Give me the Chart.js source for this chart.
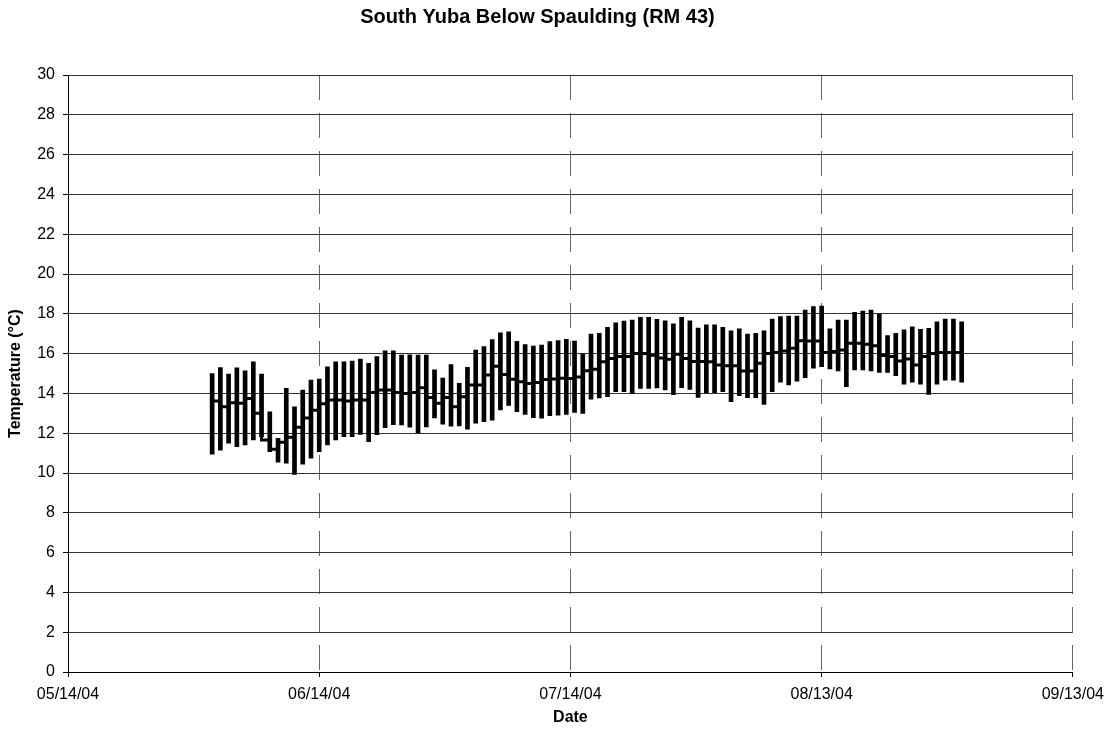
<!DOCTYPE html>
<html><head><meta charset="utf-8">
<script src="https://cdn.jsdelivr.net/npm/chart.js@4.4.0/dist/chart.umd.min.js"></script>
<style>html,body{margin:0;padding:0;background:#fff;}#wrap{width:1112px;height:736px;}</style>
</head><body><div id="wrap"><canvas id="c" width="1112" height="736"></canvas></div>
<script>
const chartTitle = 'South Yuba Below Spaulding (RM 43)';
const xAxisTitle = 'Date';
const yAxisTitle = 'Temperature (°C)';
const xTickLabels = ['05/14/04', '06/14/04', '07/14/04', '08/13/04', '09/13/04'];
const xTickDays = [0, 30.5, 61, 91.5, 122];   // days after 05/14/04
const firstDataDay = 17.5;                   // 05/31/04, one value per day to 08/30/04

const dailyMax = [
  15.0, 15.3, 14.97, 15.29, 15.14, 15.59, 14.97, 13.08, 11.74, 14.25,
  13.33, 14.17, 14.67, 14.72, 15.34, 15.59, 15.59, 15.62, 15.73, 15.51,
  15.85, 16.14, 16.14, 15.93, 15.94, 15.93, 15.93, 15.18, 14.77, 15.45,
  14.51, 15.31, 16.18, 16.35, 16.7, 17.05, 17.1, 16.62, 16.45, 16.38,
  16.43, 16.6, 16.66, 16.72, 16.63, 15.97, 16.98, 17.02, 17.32, 17.55,
  17.64, 17.69, 17.82, 17.82, 17.72, 17.65, 17.5, 17.82, 17.65, 17.28,
  17.44, 17.44, 17.32, 17.15, 17.24, 16.98, 17.02, 17.14, 17.74, 17.86,
  17.89, 17.89, 18.19, 18.36, 18.39, 17.24, 17.69, 17.69, 18.07, 18.14,
  18.19, 17.99, 16.9, 17.02, 17.19, 17.35, 17.22, 17.27, 17.6, 17.74,
  17.74, 17.6
];
const dailyMin = [
  10.95, 11.15, 11.5, 11.32, 11.41, 11.66, 11.83, 11.07, 10.54, 10.49,
  9.93, 10.44, 10.74, 11.07, 11.41, 11.66, 11.83, 11.83, 11.94, 11.57,
  11.93, 12.28, 12.43, 12.41, 12.3, 12.0, 12.32, 12.77, 12.45, 12.35,
  12.37, 12.2, 12.5, 12.58, 12.66, 13.17, 13.4, 13.08, 12.95, 12.78,
  12.75, 12.88, 12.91, 12.95, 13.05, 13.0, 13.71, 13.77, 13.83, 14.09,
  14.09, 14.0, 14.25, 14.25, 14.27, 14.18, 13.93, 14.29, 14.2, 13.8,
  14.02, 14.04, 14.09, 13.58, 13.88, 13.79, 13.79, 13.45, 14.09, 14.56,
  14.42, 14.62, 14.79, 15.27, 15.34, 15.23, 15.13, 14.34, 15.18, 15.18,
  15.13, 15.06, 15.06, 14.89, 14.46, 14.56, 14.46, 13.95, 14.46, 14.67,
  14.67, 14.56
];
const dailyMean = [
  13.28, 13.62, 13.33, 13.53, 13.5, 13.75, 13.0, 11.66, 11.19, 11.54,
  11.8, 12.3, 12.77, 13.15, 13.48, 13.67, 13.67, 13.62, 13.67, 13.67,
  14.05, 14.17, 14.17, 14.05, 14.0, 14.05, 14.29, 13.8, 13.5, 13.8,
  13.33, 13.83, 14.42, 14.42, 14.92, 15.36, 14.95, 14.71, 14.59, 14.5,
  14.55, 14.7, 14.72, 14.76, 14.75, 14.82, 15.14, 15.21, 15.59, 15.76,
  15.85, 15.85, 16.01, 16.0, 15.92, 15.78, 15.72, 15.97, 15.75, 15.6,
  15.6, 15.59, 15.43, 15.39, 15.39, 15.13, 15.13, 15.51, 16.01, 16.06,
  16.13, 16.27, 16.65, 16.63, 16.63, 16.06, 16.1, 16.18, 16.52, 16.52,
  16.47, 16.4, 15.9, 15.85, 15.63, 15.73, 15.43, 15.85, 16.01, 16.06,
  16.06, 16.06
];

const FONT = 'Liberation Sans, Arial, Helvetica, sans-serif';

const rangeData = dailyMax.map((hi, i) => ({ x: firstDataDay + i, y: [dailyMin[i], hi] }));
const meanData = dailyMean.map((m, i) => ({ x: firstDataDay + i, y: m }));

new Chart(document.getElementById('c'), {
  type: 'bar',
  data: {
    datasets: [
      { type: 'bar', label: 'Daily range', data: rangeData, backgroundColor: '#000', borderWidth: 0, barThickness: 4, order: 2 },
      { type: 'line', label: 'Daily mean', data: meanData, stepped: 'after', borderColor: '#000', borderWidth: 3, pointRadius: 0, fill: false, order: 1 }
    ]
  },
  options: {
    responsive: false, animation: false, devicePixelRatio: 1,
    layout: { padding: { left: 0, right: 37, top: 0, bottom: 0 } },
    plugins: {
      legend: { display: false }, tooltip: { enabled: false },
      title: { display: true, text: chartTitle, color: '#000', font: { family: FONT, size: 20, weight: 'bold' }, padding: { top: 5, bottom: 46 } }
    },
    scales: {
      x: {
        type: 'linear', min: 0, max: 122, offset: false,
        afterBuildTicks: s => { s.ticks = xTickDays.map(v => ({ value: v })); },
        afterFit: s => { s.height = 64; },
        ticks: { callback: (v, i) => xTickLabels[i], autoSkip: false, maxRotation: 0, color: '#000', font: { family: FONT, size: 16 }, padding: 8 },
        grid: { offset: false, color: c => (c.index === 0 ? 'rgba(0,0,0,0)' : '#666'), lineWidth: 1, tickColor: '#000', tickLength: 5 },
        border: { display: true, color: '#000', width: 1, dash: [25, 13] },
        title: { display: true, text: xAxisTitle, color: '#000', font: { family: FONT, size: 16, weight: 'bold' }, padding: { top: 4, bottom: 9 } }
      },
      y: {
        min: 0, max: 30,
        afterFit: s => { s.width = 68; },
        ticks: { stepSize: 2, color: '#000', font: { family: FONT, size: 16 }, padding: 8 },
        grid: { color: '#333', lineWidth: 1, tickColor: '#000', tickLength: 5 },
        border: { display: true, color: '#000', width: 1 },
        title: { display: true, text: yAxisTitle, color: '#000', font: { family: FONT, size: 16, weight: 'bold' }, padding: { top: 6, bottom: 0 } }
      }
    }
  }
});
</script>
</body></html>
